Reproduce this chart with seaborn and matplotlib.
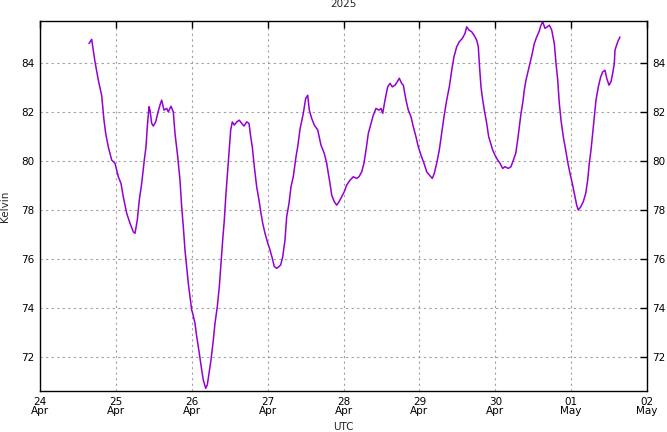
import matplotlib
matplotlib.use("Agg")
import matplotlib.pyplot as plt
import matplotlib.dates as mdates
import seaborn as sns
import pandas as pd

# hours since 2025-04-24 00:00 UTC
hours = [15.50, 16.35, 17.40, 18.44, 19.52, 20.24, 20.78, 21.60, 22.68, 23.72,
         24.77, 25.62, 26.35, 27.42, 28.47, 29.51, 30.05, 30.78, 31.41, 32.17,
         32.99, 33.53, 33.94, 34.48, 34.79, 35.33, 35.84, 36.60, 37.23, 37.96,
         38.49, 39.22, 40.08, 40.58, 41.44, 42.16, 42.70, 43.56, 44.28, 44.82,
         45.33, 45.86, 46.40, 46.91, 47.45, 47.98, 48.30, 49.03, 49.57, 50.39,
         51.15, 51.65, 52.41, 52.92, 53.46, 54.09, 54.82, 55.35, 56.08, 56.72,
         57.25, 57.79, 58.30, 58.83, 59.37, 59.88, 60.32, 60.83, 61.46, 62.22,
         63.04, 63.80, 64.53, 65.38, 66.11, 66.65, 67.15, 67.79, 68.54, 69.27,
         69.90, 70.44, 71.17, 71.90, 72.75, 73.48, 74.11, 74.87, 75.60, 76.14,
         76.77, 77.50, 78.03, 78.76, 79.39, 80.12, 80.98, 81.51, 82.24, 83.29,
         84.04, 84.68, 85.18, 85.94, 86.76, 87.84, 88.88, 89.93, 90.69, 91.19,
         91.73, 92.27, 93.09, 93.85, 94.58, 95.43, 96.25, 97.01, 98.06, 99.10,
         100.17, 100.90, 101.76, 102.48, 103.12, 103.85, 104.70, 105.43, 106.28, 107.23,
         107.86, 108.40, 109.13, 109.98, 110.71, 111.44, 112.29, 113.02, 113.65, 114.41,
         114.92, 115.77, 116.50, 117.35, 118.08, 118.93, 119.66, 120.52, 121.46, 122.32,
         123.14, 124.09, 124.72, 125.48, 126.30, 127.06, 127.79, 128.64, 129.47, 130.23,
         130.95, 131.81, 132.63, 133.58, 134.43, 134.97, 135.70, 136.55, 137.28, 138.13,
         138.64, 138.96, 139.49, 140.03, 140.54, 141.30, 141.93, 142.56, 143.19, 143.92,
         144.78, 145.50, 146.36, 147.08, 148.13, 148.98, 149.71, 150.47, 151.10, 151.61,
         152.15, 152.68, 153.19, 153.73, 154.45, 155.09, 155.72, 156.35, 157.11, 157.84,
         158.47, 159.01, 159.73, 160.46, 161.10, 161.86, 162.68, 163.22, 163.76, 164.26,
         164.80, 165.53, 166.28, 166.91, 167.64, 168.37, 169.00, 169.76, 170.27, 171.03,
         171.85, 172.61, 173.24, 173.75, 174.29, 174.82, 175.33, 175.87, 176.60, 177.36,
         177.99, 178.72, 179.26, 179.98, 180.61, 181.15, 181.66, 181.88, 182.73, 183.46]

kelvin = [84.80, 84.97, 84.05, 83.31, 82.67, 81.67, 81.13, 80.58, 80.04, 79.91,
          79.36, 79.09, 78.54, 77.87, 77.46, 77.11, 77.05, 77.59, 78.41, 79.09,
          80.04, 80.58, 81.40, 82.22, 82.08, 81.54, 81.43, 81.60, 81.95, 82.29,
          82.49, 82.08, 82.15, 82.01, 82.24, 82.01, 81.13, 80.18, 79.22, 78.13,
          77.32, 76.37, 75.69, 75.01, 74.46, 73.92, 73.78, 73.37, 72.83, 72.15,
          71.47, 71.06, 70.72, 70.86, 71.33, 71.88, 72.69, 73.37, 74.05, 74.87,
          75.82, 76.78, 77.59, 78.68, 79.63, 80.58, 81.27, 81.60, 81.47, 81.60,
          81.67, 81.54, 81.43, 81.60, 81.54, 80.99, 80.58, 79.77, 78.95, 78.41,
          77.87, 77.46, 77.05, 76.71, 76.37, 76.03, 75.69, 75.62, 75.69, 75.76,
          76.09, 76.78, 77.73, 78.27, 78.95, 79.36, 80.18, 80.58, 81.30, 81.95,
          82.56, 82.69, 82.08, 81.74, 81.47, 81.27, 80.65, 80.31, 79.91, 79.50,
          79.09, 78.61, 78.34, 78.20, 78.34, 78.54, 78.75, 79.02, 79.22, 79.36,
          79.29, 79.36, 79.56, 79.91, 80.45, 81.13, 81.54, 81.88, 82.15, 82.08,
          82.15, 81.95, 82.49, 83.03, 83.17, 83.03, 83.10, 83.24, 83.38, 83.17,
          83.10, 82.49, 82.08, 81.81, 81.40, 80.99, 80.58, 80.24, 79.91, 79.56,
          79.43, 79.29, 79.50, 79.91, 80.45, 81.13, 81.81, 82.49, 83.03, 83.71,
          84.26, 84.67, 84.87, 85.01, 85.21, 85.48, 85.35, 85.28, 85.14, 84.94,
          84.67, 83.99, 83.03, 82.49, 82.08, 81.54, 80.99, 80.72, 80.45, 80.24,
          80.04, 79.91, 79.70, 79.77, 79.70, 79.77, 80.04, 80.31, 80.86, 81.40,
          81.95, 82.36, 82.90, 83.31, 83.71, 84.05, 84.40, 84.80, 85.07, 85.28,
          85.55, 85.69, 85.42, 85.48, 85.55, 85.35, 84.80, 83.99, 83.31, 82.36,
          81.67, 80.99, 80.45, 79.97, 79.50, 79.09, 78.68, 78.20, 78.00, 78.13,
          78.34, 78.68, 79.22, 79.91, 80.45, 81.13, 81.81, 82.49, 83.03, 83.44,
          83.64, 83.71, 83.38, 83.10, 83.24, 83.58, 83.99, 84.53, 84.87, 85.07]

yticks = [72, 74, 76, 78, 80, 82, 84]
title = "2025"
xlabel = "UTC"
ylabel = "Kelvin"

sns.set_style("white")
plt.rcParams["font.family"] = ["DejaVu Sans"]

start = pd.Timestamp("2025-04-24 00:00")
df = pd.DataFrame({
    "time": start + pd.to_timedelta(hours, unit="h"),
    "kelvin": kelvin,
})

fig = plt.figure(figsize=(6.67, 4.32), dpi=100)
ax = fig.add_axes([40 / 667, 1 - 391 / 432, 607 / 667, 370 / 432])

sns.lineplot(data=df, x="time", y="kelvin", ax=ax, color="#9400d3",
             linewidth=1.1, estimator=None, sort=False)

ax.set_xlim(pd.Timestamp("2025-04-24"), pd.Timestamp("2025-05-02"))
ax.set_ylim(70.61, 85.72)
ax.set_yticks(yticks)
ax.xaxis.set_major_locator(mdates.DayLocator())
ax.xaxis.set_major_formatter(mdates.DateFormatter("%d\n%b"))

ax.grid(True, color="#a0a0a0", linestyle=(0, (2, 3)), linewidth=0.8)
for s in ax.spines.values():
    s.set_color("black")
    s.set_linewidth(1.0)

ax.tick_params(axis="both", which="major", direction="in", length=5, width=1,
               labelsize=7.5, colors="black", top=True, right=True,
               labelright=True, pad=4)
for lab in ax.get_xticklabels():
    lab.set_linespacing(0.95)

ax.set_title(title, fontsize=7.5, pad=10)
ax.set_xlabel(xlabel, fontsize=7.5, labelpad=4)
ax.set_ylabel(ylabel, fontsize=7.5, labelpad=8)

fig.savefig("out.png", dpi=100)
